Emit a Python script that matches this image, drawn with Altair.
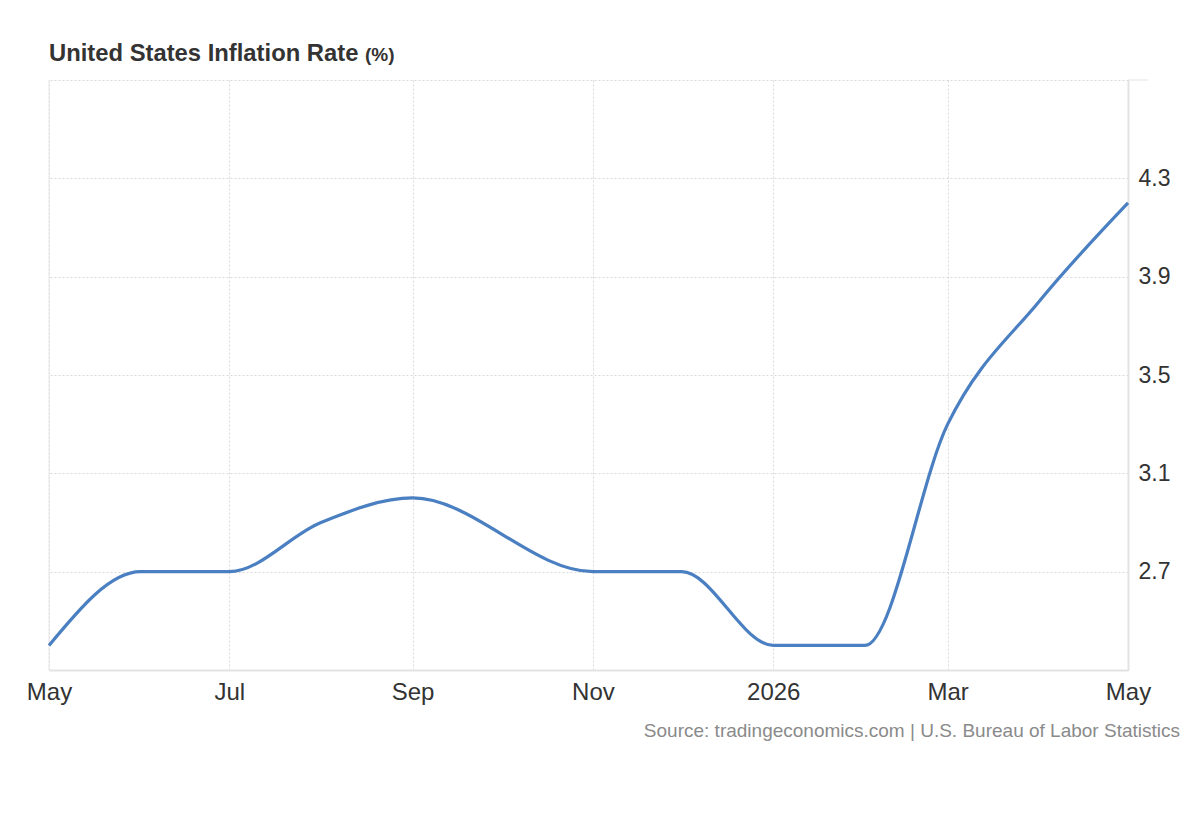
import altair as alt
import pandas as pd

dates = ["2025-05-01", "2025-06-01", "2025-07-01", "2025-08-01", "2025-09-01",
         "2025-11-01", "2025-12-01", "2026-01-01", "2026-02-01", "2026-03-01",
         "2026-04-01", "2026-05-01"]
values = [2.4, 2.7, 2.7, 2.9, 3.0, 2.7, 2.7, 2.4, 2.4, 3.3, 3.8, 4.2]
y_ticks = [2.3, 2.7, 3.1, 3.5, 3.9, 4.3, 4.7]
x_ticks = ["2025-05-01", "2025-07-01", "2025-09-01", "2025-11-01",
           "2026-01-01", "2026-03-01", "2026-05-01"]
title_text = "United States Inflation Rate"
unit_text = "(%)"
source_text = "Source: tradingeconomics.com | U.S. Bureau of Labor Statistics"

df = pd.DataFrame({"date": dates, "value": values})
one = pd.DataFrame({"k": [0]})

W, H = 1079, 590
FONT = "Liberation Sans"

def dt(s):
    y, m, d = map(int, s.split("-"))
    return alt.DateTime(year=y, month=m, date=d, utc=True)

grid_kw = dict(grid=True, gridColor="#d9d9d9", gridDash=[2, 2], gridWidth=1)

x_enc = alt.X(
    "date:T",
    scale=alt.Scale(type="utc", domain=[dt(x_ticks[0]), dt(x_ticks[-1])]),
    axis=alt.Axis(
        title=None,
        values=[dt(s) for s in x_ticks],
        labelExpr="utcmonth(datum.value) == 0 ? utcFormat(datum.value, '%Y') : utcFormat(datum.value, '%b')",
        labelFontSize=24,
        labelColor="#333333",
        labelFont=FONT,
        labelPadding=10,
        tickSize=0,
        domainColor="#e3e3e3",
        domainWidth=2,
        labelFlush=False,
        **grid_kw,
    ),
)

y_enc = alt.Y(
    "value:Q",
    scale=alt.Scale(domain=[2.3, 4.7], nice=False, zero=False),
    axis=alt.Axis(
        title=None,
        orient="right",
        values=y_ticks,
        labelExpr="(datum.value < 2.5 || datum.value > 4.5) ? '' : format(datum.value, '.1f')",
        labelFontSize=23,
        labelColor="#333333",
        labelFont=FONT,
        labelPadding=10,
        tickSize=0,
        domainColor="#e3e3e3",
        domainWidth=2,
        **grid_kw,
    ),
)

line = alt.Chart(df).mark_line(
    interpolate="monotone", color="#4a7fc1", strokeWidth=3.2
).encode(x=x_enc, y=y_enc)

left_border = alt.Chart(one).mark_rule(color="#e6e6e6", strokeWidth=1).encode(
    x=alt.value(0), y=alt.value(0), y2=alt.value(H)
)
top_tick = alt.Chart(one).mark_rule(color="#e3e3e3", strokeWidth=1).encode(
    x=alt.value(W), x2=alt.value(W + 20), y=alt.value(0)
)

title_main = alt.Chart(one).mark_text(
    text=title_text, align="left", baseline="alphabetic",
    fontSize=23.8, fontWeight="bold", font=FONT, color="#333333"
).encode(x=alt.value(0), y=alt.value(-19))

title_unit = alt.Chart(one).mark_text(
    text=unit_text, align="left", baseline="alphabetic",
    fontSize=19, fontWeight="bold", font=FONT, color="#333333"
).encode(x=alt.value(316), y=alt.value(-19))

source = alt.Chart(one).mark_text(
    text=source_text,
    align="right", baseline="middle", fontSize=19, font=FONT, color="#8a8a8a"
).encode(x=alt.value(1131), y=alt.value(651))

chart = alt.layer(
    left_border, top_tick, line, title_main, title_unit, source
).properties(
    width=W, height=H,
    padding={"left": 49, "top": 80, "right": 72, "bottom": 150},
    autosize=alt.AutoSizeParams(type="none"),
    background="white",
).configure_view(stroke=None)

chart.save("out.html", embed_options={"renderer": "svg", "actions": False})
